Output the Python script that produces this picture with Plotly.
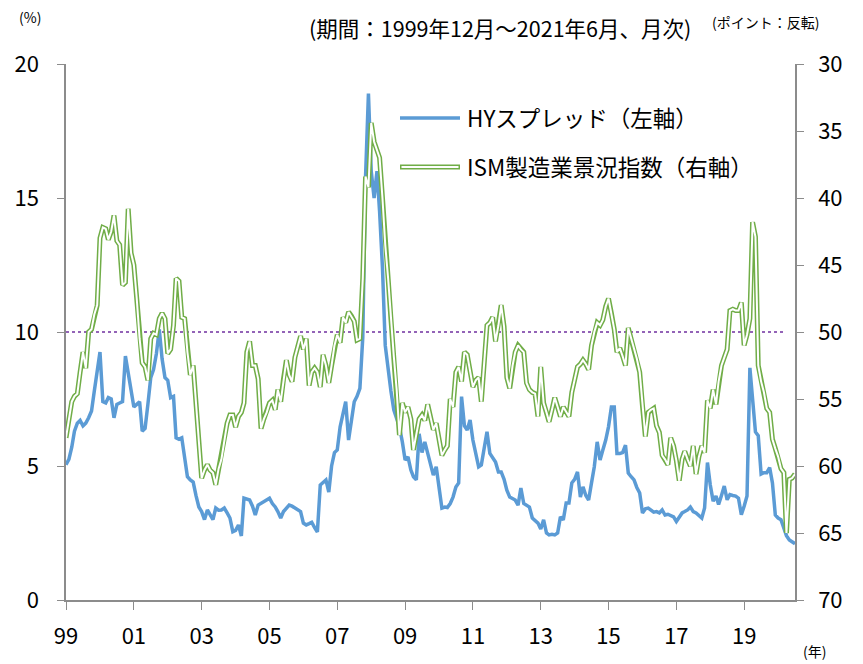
import pandas as pd
import plotly.graph_objects as go

# Monthly data, Dec 1999 - Jun 2021
months = pd.date_range("1999-12-01", "2021-06-01", freq="MS")

hy_spread = [
    5.05,
    5.25, 5.7, 6.3, 6.6, 6.7, 6.5, 6.6, 6.8, 7.05, 7.8, 8.6, 9.25,
    7.4, 7.35, 7.55, 7.5, 6.8, 7.3, 7.35, 7.4, 9.1, 8.4, 7.7, 7.2,
    7.3, 7.4, 6.3, 6.4, 7.3, 8.3, 8.6, 9.2, 10.1, 9.0, 8.3, 8.2,
    7.55, 7.6, 6.05, 6.0, 6.05, 5.2, 4.6, 4.48, 4.4, 3.9, 3.47, 3.3,
    3.0, 3.36, 3.2, 3.0, 3.43, 3.35, 3.36, 3.43, 3.25, 3.06, 2.55, 2.6,
    2.8, 2.39, 3.8, 3.75, 3.73, 3.5, 3.17, 3.54, 3.6, 3.66, 3.75, 3.8,
    3.6, 3.47, 3.3, 3.06, 3.3, 3.43, 3.54, 3.5, 3.43, 3.35, 3.3, 2.87,
    2.8, 2.85, 2.9, 2.7, 2.54, 4.29, 4.4, 4.48, 4.03, 5.0, 5.5, 5.6,
    6.46, 7.0, 7.4, 5.97, 6.6, 7.4, 7.6, 7.9, 9.8, 15.8, 18.9, 16.0,
    15.0, 16.0, 14.5, 12.4, 9.5, 8.6, 7.8, 7.1, 6.8, 6.46, 5.9, 5.22,
    5.34, 4.85, 4.6, 4.48, 6.2, 5.5, 5.9, 5.5, 5.1, 4.66, 4.97, 4.1,
    3.43, 3.47, 3.45, 3.6, 3.84, 4.22, 4.37, 7.59, 6.5, 6.34, 6.72, 5.97,
    5.4, 4.97, 5.04, 5.6, 6.28, 5.47, 5.3, 5.15, 4.78, 4.78, 4.5, 4.1,
    3.84, 3.8, 3.73, 3.54, 4.18, 3.6, 3.54, 3.47, 3.06, 2.95, 2.87, 2.65,
    2.99, 2.5, 2.43, 2.45, 2.43, 2.5, 3.1, 2.99, 3.62, 3.62, 4.37, 4.5,
    4.78, 3.84, 4.22, 3.9, 3.73, 4.37, 4.97, 5.9, 5.22, 5.6, 5.97, 6.46,
    7.2, 7.2, 5.47, 5.47, 5.5, 5.78, 4.74, 4.6, 4.48, 4.2, 3.99, 3.25,
    3.4, 3.43, 3.35, 3.28, 3.3, 3.25, 3.36, 3.17, 3.2, 3.15, 3.1, 2.93,
    3.1, 3.25, 3.3, 3.36, 3.47, 3.3, 3.25, 3.15, 3.06, 3.43, 5.13, 4.3,
    3.69, 3.88, 3.56, 3.9, 4.25, 3.74, 3.93, 3.9, 3.88, 3.8, 3.18, 3.5,
    3.88, 8.66, 7.5, 6.27, 6.13, 4.7, 4.75, 4.75, 4.94, 4.37, 3.17, 3.06,
    3.0, 2.69, 2.4, 2.24, 2.18, 2.1,
]

ism_pmi = [
    57.9,
    56.5, 55.2, 54.8, 54.6, 53.0, 51.5, 52.7, 50.0, 49.8, 48.7, 48.0, 43.0,
    42.2, 42.3, 43.1, 42.5, 41.3, 43.2, 43.5, 46.5, 46.3, 40.8, 44.1, 45.0,
    47.5, 50.5, 52.3, 52.6, 53.6, 50.5, 50.1, 50.2, 49.0, 48.6, 49.0, 51.6,
    51.3, 49.5, 46.0, 46.2, 48.9, 49.0, 51.5, 53.2, 52.5, 55.5, 58.5, 60.9,
    60.3, 59.9, 60.3, 60.5, 61.4, 60.2, 59.5, 58.0, 56.8, 56.2, 56.2, 57.1,
    56.3, 56.0, 55.3, 51.5, 50.7, 52.5, 52.5, 53.5, 57.2, 56.5, 56.0, 55.3,
    55.1, 55.8, 54.3, 55.2, 53.5, 52.1, 53.2, 53.7, 51.9, 51.0, 50.3, 51.3,
    50.5, 54.0, 53.0, 52.7, 53.0, 54.1, 51.7, 52.5, 53.8, 52.5, 51.0, 50.2,
    50.8, 48.9, 49.3, 48.5, 48.8, 49.2, 50.6, 50.5, 46.0, 38.4, 39.2, 34.4,
    35.8, 36.5, 37.0, 40.0, 43.5, 46.0, 49.0, 51.8, 54.3, 57.7, 55.3, 56.0,
    55.6, 56.5, 58.8, 57.5, 56.5, 56.2, 56.6, 55.4, 56.5, 57.3, 56.8, 58.0,
    59.2, 58.8, 58.5, 55.0, 55.6, 53.0, 52.6, 53.7, 51.5, 51.7, 52.8, 54.1,
    53.6, 53.4, 55.2, 52.0, 49.5, 49.3, 48.9, 50.7, 49.5, 48.0, 49.6, 53.4,
    54.2, 52.5, 51.5, 51.0, 51.3, 51.5, 53.8, 54.3, 54.5, 54.6, 56.3, 52.6,
    55.3, 56.0, 56.7, 55.8, 54.9, 55.6, 56.3, 55.6, 56.0, 56.3, 54.5, 53.5,
    52.6, 52.4, 52.1, 52.4, 52.8, 51.0, 50.0, 49.3, 49.5, 49.1, 48.1, 47.5,
    48.6, 49.8, 51.5, 51.2, 51.8, 52.5, 49.7, 50.5, 51.2, 52.0, 53.0, 55.5,
    57.8, 56.0, 55.8, 55.7, 57.0, 57.5, 59.2, 59.5, 59.9, 57.9, 58.5, 59.6,
    61.1, 59.5, 58.9, 59.5, 60.0, 58.5, 60.6, 59.3, 58.5, 59.0, 55.1, 55.7,
    54.3, 55.4, 53.7, 52.5, 51.9, 51.3, 48.4, 48.3, 48.4, 48.4, 47.8, 51.0,
    50.2, 49.0, 41.8, 42.9, 52.5, 53.7, 54.5, 55.7, 56.0, 58.0, 58.7, 59.3,
    60.2, 60.5, 65.0, 61.0, 60.9, 60.6,
]

tick_dates = pd.date_range("1999-12-01", "2019-12-01", freq="24MS")
tick_labels = ["99", "01", "03", "05", "07", "09", "11", "13", "15", "17", "19"]
ref_level = 10
ref_end = "2021-02-01"

series_names = ["HYスプレッド（左軸）", "ISM製造業景況指数（右軸）"]

BLUE = "#5B9BD5"
GREEN = "#70AD47"
AXIS = "#8C8C8C"
FONT = "Noto Sans CJK JP, Noto Sans, sans-serif"

fig = go.Figure()

fig.add_trace(go.Scatter(x=[months[0], pd.Timestamp(ref_end)], y=[ref_level, ref_level],
                         mode="lines", line=dict(color="#7030A0", width=1.5, dash="dot"),
                         showlegend=False, hoverinfo="skip", yaxis="y"))

fig.add_trace(go.Scatter(x=months, y=ism_pmi, mode="lines", name=series_names[1],
                         line=dict(color=GREEN, width=5), yaxis="y2", showlegend=False))
fig.add_trace(go.Scatter(x=months, y=ism_pmi, mode="lines", name=series_names[1],
                         line=dict(color="white", width=2), yaxis="y2", showlegend=False,
                         hoverinfo="skip"))
fig.add_trace(go.Scatter(x=months, y=hy_spread, mode="lines", name=series_names[0],
                         line=dict(color=BLUE, width=3.5), yaxis="y", showlegend=False))

# page has an 8px body margin; figure is sized so the plot area lands at 66..795 x 64..600
W, H = 855, 656
L, R, T, B = 58, 68, 56, 64
pw, ph = W - L - R, H - T - B


def px(xp):
    return (xp - 66) / pw


def py(yp):
    return (600 - yp) / ph


shapes = [
    dict(type="line", xref="paper", yref="paper", x0=px(400), x1=px(460), y0=py(118), y1=py(118),
         line=dict(color=BLUE, width=3.5)),
    dict(type="line", xref="paper", yref="paper", x0=px(400), x1=px(460), y0=py(167), y1=py(167),
         line=dict(color=GREEN, width=5)),
    dict(type="line", xref="paper", yref="paper", x0=px(401.5), x1=px(458.5), y0=py(167), y1=py(167),
         line=dict(color="white", width=2)),
]

annotations = [
    dict(text=series_names[0], x=px(465), y=py(117), xref="paper", yref="paper",
         xanchor="left", yanchor="middle", showarrow=False, font=dict(size=22.5, color="#000")),
    dict(text=series_names[1], x=px(465), y=py(166), xref="paper", yref="paper",
         xanchor="left", yanchor="middle", showarrow=False, font=dict(size=22.5, color="#000")),
    dict(text="(%)", x=px(30), y=py(17), xref="paper", yref="paper",
         xanchor="center", yanchor="middle", showarrow=False, font=dict(size=14, color="#000")),
    dict(text="(期間：1999年12月～2021年6月、月次)", x=px(500), y=py(28), xref="paper", yref="paper",
         xanchor="center", yanchor="middle", showarrow=False, font=dict(size=21.5, color="#000")),
    dict(text="(ポイント：反転)", x=px(765), y=py(22), xref="paper", yref="paper",
         xanchor="center", yanchor="middle", showarrow=False, font=dict(size=14, color="#000")),
    dict(text="(年)", x=px(814), y=py(651), xref="paper", yref="paper",
         xanchor="center", yanchor="middle", showarrow=False, font=dict(size=14, color="#000")),
]

fig.update_layout(
    width=W, height=H,
    margin=dict(l=L, r=R, t=T, b=B, autoexpand=False),
    paper_bgcolor="white", plot_bgcolor="white",
    font=dict(family=FONT, color="#000", size=20),
    showlegend=False,
    shapes=shapes,
    annotations=annotations,
    xaxis=dict(
        range=[months[0], months[-1]], automargin=False,
        tickmode="array", tickvals=tick_dates, ticktext=tick_labels,
        showgrid=False, zeroline=False,
        showline=True, linecolor=AXIS, linewidth=1.5,
        ticks="outside", ticklen=8, tickcolor=AXIS, tickwidth=1,
        tickfont=dict(size=22), ticklabelstandoff=8,
    ),
    yaxis=dict(
        range=[0, 20], dtick=5, tick0=0, automargin=False,
        showgrid=False, zeroline=False,
        showline=True, linecolor=AXIS, linewidth=1.5,
        ticks="outside", ticklen=7, tickcolor=AXIS, tickwidth=1,
        tickfont=dict(size=22), ticklabelstandoff=14,
    ),
    yaxis2=dict(
        range=[70, 30], dtick=5, tick0=30, automargin=False,
        overlaying="y", side="right",
        showgrid=False, zeroline=False,
        showline=True, linecolor=AXIS, linewidth=1.5,
        ticks="outside", ticklen=7, tickcolor=AXIS, tickwidth=1,
        tickfont=dict(size=22), ticklabelstandoff=10,
    ),
)

fig.write_html("out.html")
